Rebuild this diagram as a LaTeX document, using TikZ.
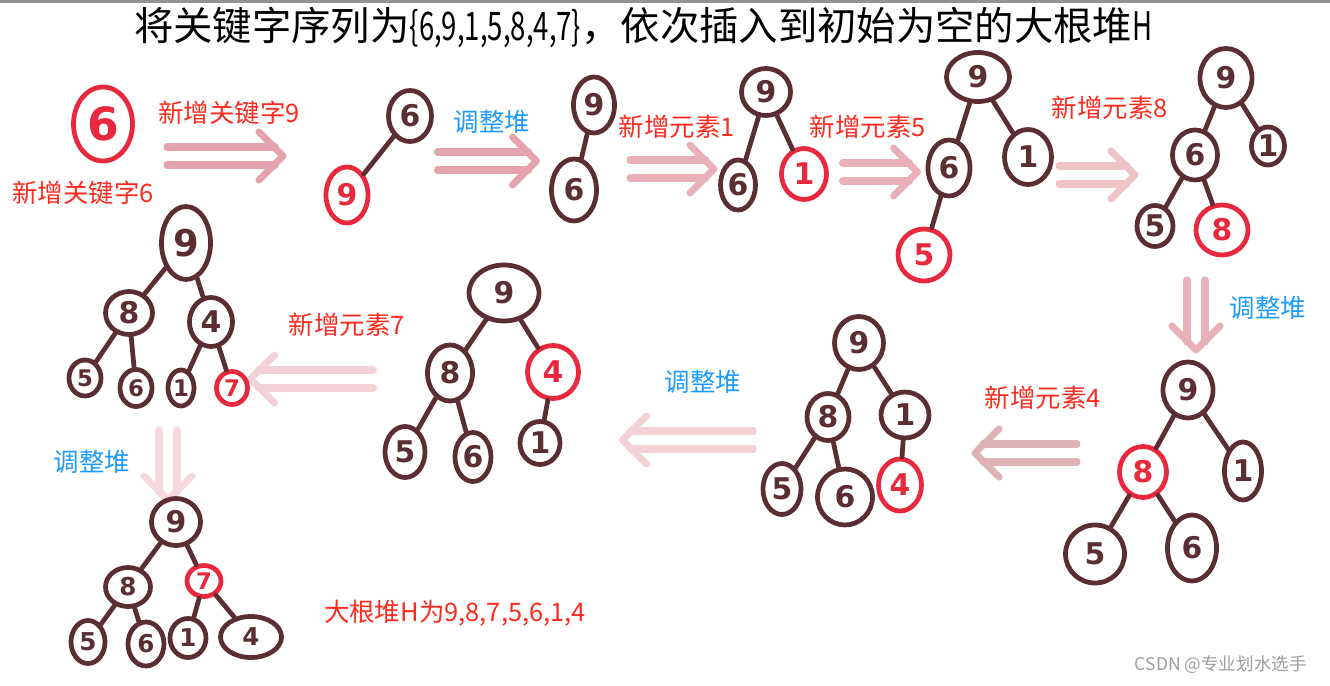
\documentclass[tikz,border=0pt]{standalone}
\usepackage{fontspec}
\usepackage{graphicx}
\setmainfont{Noto Sans CJK SC}
\newfontfamily\digitfont{DejaVu Sans}
\usetikzlibrary{shapes.geometric}

\definecolor{heapbrown}{HTML}{5B2E33}
\definecolor{newred}{HTML}{E8283C}
\definecolor{labelred}{HTML}{FF2A1E}
\definecolor{labelblue}{HTML}{1E9BFF}
\definecolor{pinkA}{HTML}{E4A2AC}
\definecolor{pinkB}{HTML}{E8B0B8}
\definecolor{pinkC}{HTML}{EEC4C9}
\definecolor{pinkD}{HTML}{DDB2B6}
\definecolor{pinkE}{HTML}{F2D2D6}
\definecolor{pinkF}{HTML}{F8DADE}

\tikzset{
  key/.style={ellipse, draw=heapbrown, line width=2.7pt, inner sep=0pt,
    text=heapbrown, font=\digitfont\bfseries\fontsize{17}{17}\selectfont},
  newkey/.style={key, draw=newred, text=newred},
  sz/.style 2 args={minimum width=#1*0.02cm, minimum height=#2*0.02cm},
  link/.style={draw=heapbrown, line width=2.7pt, line cap=round},
  addlabel/.style={text=labelred, font=\fontsize{14.5}{14.5}\selectfont},
  fixlabel/.style={text=labelblue, font=\fontsize{14.5}{14.5}\selectfont},
  arrowline/.style={line width=4pt, line cap=round, line join=round}
}

% pink double arrow: colour, centre, angle, length
\newcommand{\fatarrow}[4]{%
  \begin{scope}[shift={#2}, rotate=#3]
    \draw[arrowline, draw=#1] (-#4/2,-9) -- (#4/2-8,-9);
    \draw[arrowline, draw=#1] (-#4/2,9) -- (#4/2-8,9);
    \draw[arrowline, draw=#1] (#4/2-24,-24) -- (#4/2,0) -- (#4/2-24,24);
  \end{scope}}

\begin{document}
\begin{tikzpicture}[x=0.02cm, y=-0.02cm]
  \useasboundingbox (0,0) rectangle (1330,686);
  \fill[white] (0,0) rectangle (1330,686);
  \fill[gray!85] (0,0) rectangle (1330,3);

  % title
  \node[anchor=west, font=\fontsize{22.4}{23}\selectfont] (title) at (128,28)
    {将关键字序列为\scalebox{0.7}[1]{\{6,9,1,5,8,4,7\}}，依次插入到初始为空的大根堆\scalebox{0.7}[1]{H}};

  % step 1: insert 6
  \node[newkey, sz={59}{74}, font=\digitfont\bfseries\fontsize{26}{26}\selectfont] (a6) at (103,124) {6};
  \node[addlabel] (lab1) at (83,193) {新增关键字6};
  \node[addlabel] (lab2) at (229,113) {新增关键字9};
  \fatarrow{pinkA}{(225,156)}{0}{116}

  % step 2: insert 9
  \node[key, sz={43}{51}] (b6) at (410,116) {6};
  \node[newkey, sz={42}{56}] (b9) at (347,195) {9};
  \draw[link] (b6) -- (b9);
  \node[fixlabel] (lab3) at (492,122) {调整堆};
  \fatarrow{pinkA}{(487,161)}{0}{99}

  % step 3: adjusted
  \node[key, sz={41}{56}] (c9) at (594,105) {9};
  \node[key, sz={45}{62}] (c6) at (574,190) {6};
  \draw[link] (c9) -- (c6);
  \node[addlabel] (lab4) at (677,127) {新增元素1};
  \fatarrow{pinkB}{(672,169)}{0}{84}

  % step 4: insert 1
  \node[key, sz={49}{47}] (d9) at (766,92) {9};
  \node[key, sz={35}{50}] (d6) at (738,185) {6};
  \node[newkey, sz={45}{51}] (d1) at (804,174) {1};
  \draw[link] (d9) -- (d6);
  \draw[link] (d9) -- (d1);
  \node[addlabel] (lab5) at (868,127) {新增元素5};
  \fatarrow{pinkB}{(880,172)}{0}{75}

  % step 5: insert 5
  \node[key, sz={63}{49}] (e9) at (978,77) {9};
  \node[key, sz={42}{56}] (e6) at (949,168) {6};
  \node[key, sz={47}{55}] (e1) at (1028,157) {1};
  \node[newkey, sz={52}{52}] (e5) at (924,255) {5};
  \draw[link] (e9) -- (e6);
  \draw[link] (e9) -- (e1);
  \draw[link] (e6) -- (e5);
  \node[addlabel] (lab6) at (1110,108) {新增元素8};
  \fatarrow{pinkC}{(1097,175)}{0}{76}

  % step 6: insert 8
  \node[key, sz={52}{59}] (f9) at (1226,78) {9};
  \node[key, sz={45}{50}] (f6) at (1195,155) {6};
  \node[key, sz={33}{38}] (f1) at (1268,146) {1};
  \node[key, sz={36}{41}] (f5) at (1155,226) {5};
  \node[newkey, sz={52}{50}] (f8) at (1222,230) {8};
  \draw[link] (f9) -- (f6);
  \draw[link] (f9) -- (f1);
  \draw[link] (f6) -- (f5);
  \draw[link] (f6) -- (f8);
  \node[fixlabel] (lab7) at (1268,308) {调整堆};
  \fatarrow{pinkB}{(1196,315)}{-90}{70}

  % step 7: adjusted
  \node[key, sz={50}{56}] (g9) at (1188,390) {9};
  \node[newkey, sz={47}{51}] (g8) at (1143,472) {8};
  \node[key, sz={37}{58}] (g1) at (1243,471) {1};
  \node[key, sz={59}{58}] (g5) at (1095,554) {5};
  \node[key, sz={49}{66}] (g6) at (1192,548) {6};
  \draw[link] (g9) -- (g8);
  \draw[link] (g9) -- (g1);
  \draw[link] (g8) -- (g5);
  \draw[link] (g8) -- (g6);
  \node[addlabel] (lab8) at (1043,398) {新增元素4};
  \fatarrow{pinkD}{(1026,453)}{180}{102}

  % step 8: insert 4
  \node[key, sz={49}{53}] (h9) at (859,343) {9};
  \node[key, sz={42}{47}] (h8) at (828,417) {8};
  \node[key, sz={48}{46}] (h1) at (905,415) {1};
  \node[key, sz={38}{51}] (h5) at (782,489) {5};
  \node[key, sz={55}{56}] (h6) at (845,497) {6};
  \node[newkey, sz={43}{52}] (h4) at (900,485) {4};
  \draw[link] (h9) -- (h8);
  \draw[link] (h9) -- (h1);
  \draw[link] (h8) -- (h5);
  \draw[link] (h8) -- (h6);
  \draw[link] (h1) -- (h4);
  \node[fixlabel] (lab9) at (703,382) {调整堆};
  \fatarrow{pinkE}{(688,440)}{180}{131}

  % step 9: adjusted
  \node[key, sz={70}{56}] (i9) at (504,293) {9};
  \node[key, sz={45}{56}] (i8) at (450,373) {8};
  \node[newkey, sz={51}{53}] (i4) at (553,372) {4};
  \node[key, sz={40}{51}] (i5) at (405,452) {5};
  \node[key, sz={36}{49}] (i6) at (473,457) {6};
  \node[key, sz={40}{43}] (i1) at (540,443) {1};
  \draw[link] (i9) -- (i8);
  \draw[link] (i9) -- (i4);
  \draw[link] (i8) -- (i5);
  \draw[link] (i8) -- (i6);
  \draw[link] (i4) -- (i1);
  \node[addlabel] (lab10) at (347,325) {新增元素7};
  \fatarrow{pinkE}{(312,379)}{180}{123}

  % step 10: insert 7
  \node[key, sz={49}{73}, font=\digitfont\bfseries\fontsize{21}{21}\selectfont] (j9) at (186,243) {9};
  \node[key, sz={47}{43}] (j8) at (129,313) {8};
  \node[key, sz={43}{49}] (j4) at (211,322) {4};
  \node[key, sz={32}{36}, font=\digitfont\bfseries\fontsize{13}{13}\selectfont] (j5) at (85,378) {5};
  \node[key, sz={32}{37}, font=\digitfont\bfseries\fontsize{13}{13}\selectfont] (j6) at (136,388) {6};
  \node[key, sz={26}{36}, font=\digitfont\bfseries\fontsize{13}{13}\selectfont] (j1) at (181,388) {1};
  \node[newkey, sz={31}{33}, font=\digitfont\bfseries\fontsize{13}{13}\selectfont] (j7) at (232,388) {7};
  \draw[link] (j9) -- (j8);
  \draw[link] (j9) -- (j4);
  \draw[link] (j8) -- (j5);
  \draw[link] (j8) -- (j6);
  \draw[link] (j4) -- (j1);
  \draw[link] (j4) -- (j7);
  \node[fixlabel] (lab11) at (92,462) {调整堆};
  \fatarrow{pinkF}{(168,465)}{-90}{70}

  % step 11: final heap
  \node[key, sz={49}{47}] (k9) at (176,522) {9};
  \node[key, sz={45}{39}, font=\digitfont\bfseries\fontsize{14}{14}\selectfont] (k8) at (128,587) {8};
  \node[newkey, sz={34}{31}, font=\digitfont\bfseries\fontsize{13}{13}\selectfont] (k7) at (204,581) {7};
  \node[key, sz={34}{43}, font=\digitfont\bfseries\fontsize{14}{14}\selectfont] (k5) at (88,642) {5};
  \node[key, sz={36}{44}, font=\digitfont\bfseries\fontsize{14}{14}\selectfont] (k6) at (146,644) {6};
  \node[key, sz={36}{39}, font=\digitfont\bfseries\fontsize{14}{14}\selectfont] (k1) at (188,638) {1};
  \node[key, sz={61}{41}, font=\digitfont\bfseries\fontsize{14}{14}\selectfont] (k4) at (251,637) {4};
  \draw[link] (k9) -- (k8);
  \draw[link] (k9) -- (k7);
  \draw[link] (k8) -- (k5);
  \draw[link] (k8) -- (k6);
  \draw[link] (k7) -- (k1);
  \draw[link] (k7) -- (k4);
  \node[addlabel] (result) at (455,613) {大根堆H为9,8,7,5,6,1,4};

  % watermark
  \node[anchor=east, text=gray!75, font=\fontsize{10}{10}\selectfont] (mark) at (1313,665) {CSDN @专业划水选手};
\end{tikzpicture}
\end{document}
